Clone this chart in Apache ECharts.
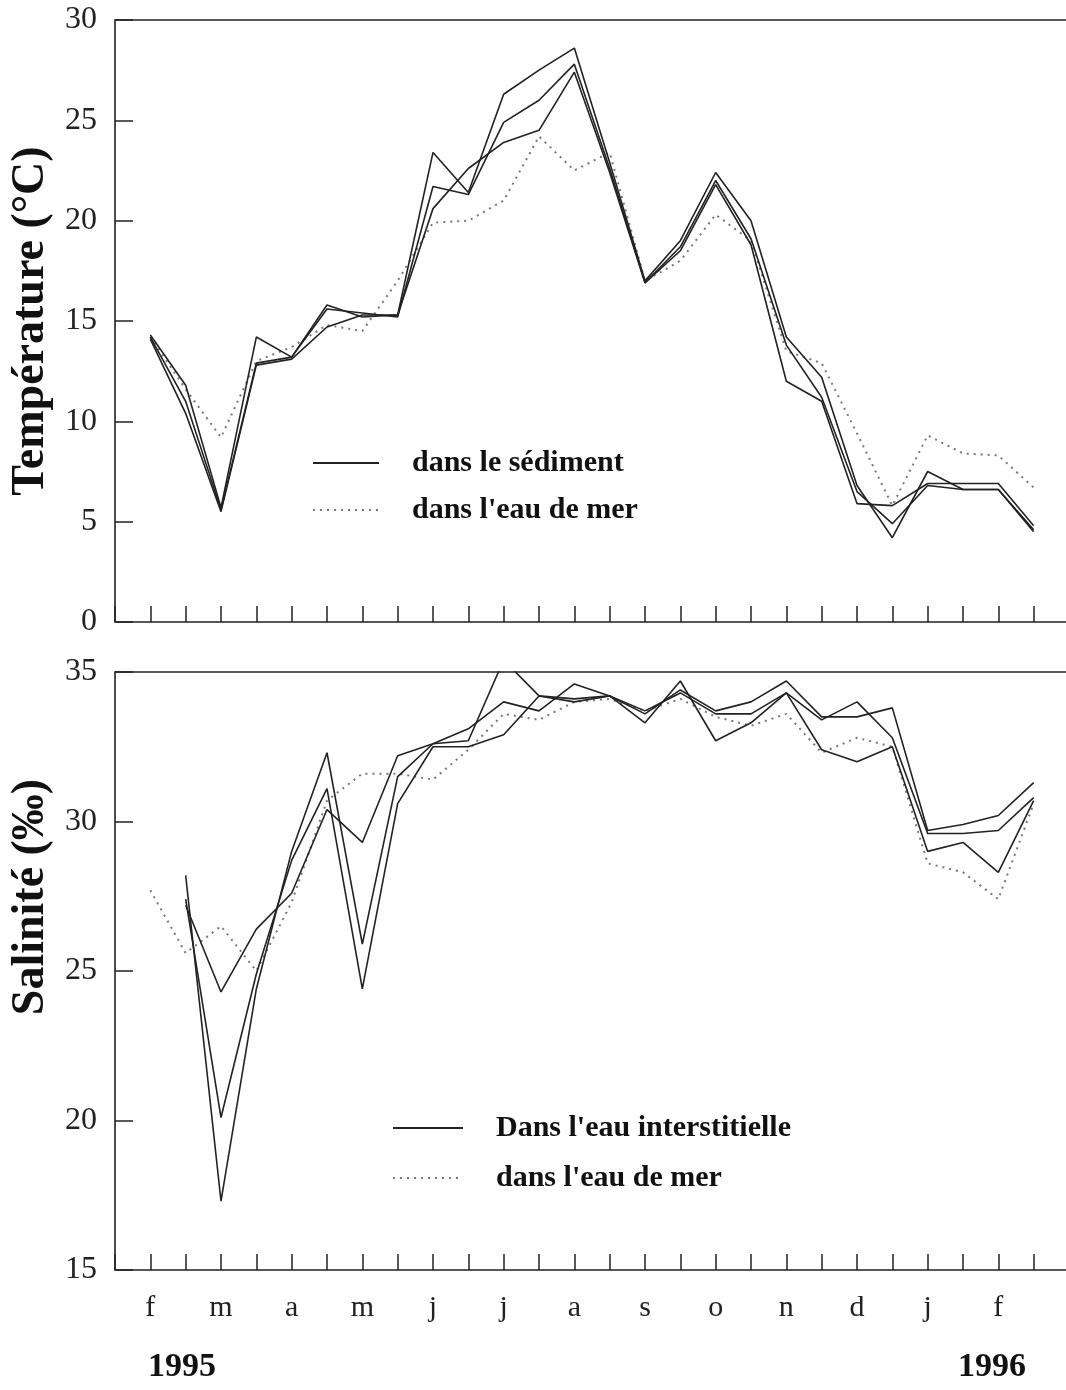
<!DOCTYPE html>
<html>
<head>
<meta charset="utf-8">
<script src="https://cdn.jsdelivr.net/npm/echarts@6/dist/echarts.min.js"></script>
<style>
  html, body { margin: 0; padding: 0; background: #fff; }
  #chart { width: 1066px; height: 1390px; }
</style>
</head>
<body>
<div id="chart"></div>
<script>
// mois (un repère tous les deux relevés)
const months = ['f', 'm', 'a', 'm', 'j', 'j', 'a', 's', 'o', 'n', 'd', 'j', 'f'];
const years = ['1995', '1996'];

// température (°C) - 3 stations dans le sédiment + eau de mer
const tempSedA = [14.3, 11.8, 5.7, 14.2, 13.2, 15.8, 15.2, 15.3, 23.4, 21.4, 26.3, 27.5, 28.6, 22.9, 17.0, 19.0, 22.4, 20.0, 14.2, 12.2, 6.8, 4.2, 7.5, 6.6, 6.6, 4.5];
const tempSedB = [14.2, 11.0, 5.6, 12.9, 13.2, 15.6, 15.4, 15.2, 21.7, 21.3, 24.9, 26.0, 27.8, 22.6, 16.9, 18.7, 22.0, 19.1, 13.8, 11.2, 6.5, 4.9, 6.8, 6.6, 6.6, 4.6];
const tempSedC = [14.1, 10.4, 5.5, 12.8, 13.1, 14.7, 15.3, 15.3, 20.6, 22.6, 23.9, 24.5, 27.4, 22.4, 16.9, 18.5, 21.8, 18.8, 12.0, 11.0, 5.9, 5.8, 6.9, 6.9, 6.9, 4.8];
const tempSea  = [14.2, 11.6, 9.2, 13.0, 13.7, 14.8, 14.5, 17.0, 19.9, 20.0, 21.0, 24.2, 22.5, 23.4, 17.0, 18.0, 20.3, 19.0, 13.5, 12.9, 9.4, 5.8, 9.3, 8.4, 8.3, 6.7];

// salinité (‰) - eau interstitielle + eau de mer
const salSedA = [null, 27.2, 24.3, 26.4, 27.6, 30.4, 29.3, 32.2, 32.6, 33.1, 34.0, 33.7, 34.6, 34.2, 33.6, 34.4, 33.7, 34.0, 34.7, 33.5, 33.5, 33.8, 29.7, 29.9, 30.2, 31.3];
const salSedB = [null, 28.2, 17.3, 24.4, 29.0, 32.3, 25.9, 31.5, 32.6, 32.7, 35.4, 34.2, 34.1, 34.2, 33.3, 34.7, 32.7, 33.3, 34.3, 33.4, 34.0, 32.8, 29.6, 29.6, 29.7, 30.8];
const salSedC = [null, 27.4, 20.1, 24.9, 28.7, 31.1, 24.4, 30.6, 32.5, 32.5, 32.9, 34.2, 34.0, 34.2, 33.7, 34.3, 33.6, 33.6, 34.3, 32.4, 32.0, 32.5, 29.0, 29.3, 28.3, 30.7];
const salSea  = [27.7, 25.6, 26.5, 25.0, 27.3, 30.7, 31.6, 31.6, 31.4, 32.4, 33.6, 33.4, 34.0, 34.1, 33.7, 34.1, 33.5, 33.2, 33.6, 32.3, 32.8, 32.5, 28.6, 28.3, 27.4, 30.6];

const SERIF = 'Liberation Serif';
const INK = '#222';

function toPoints(arr) {
  return arr.map((v, i) => [i, v]);
}

function solid(name, arr, idx) {
  return {
    name: name,
    type: 'line',
    xAxisIndex: idx,
    yAxisIndex: idx,
    data: toPoints(arr),
    symbol: 'none',
    clip: true,
    itemStyle: { color: INK },
    lineStyle: { color: INK, width: 1.6, type: 'solid' },
    z: 3
  };
}

function dotted(name, arr, idx) {
  return {
    name: name,
    type: 'line',
    xAxisIndex: idx,
    yAxisIndex: idx,
    data: toPoints(arr),
    symbol: 'none',
    clip: true,
    itemStyle: { color: '#777' },
    lineStyle: { color: '#777', width: 2, type: [2, 5] },
    z: 2
  };
}

function xAxisFor(idx, withLabels) {
  return {
    type: 'value',
    gridIndex: idx,
    min: -1,
    max: 26,
    interval: 1,
    splitLine: { show: false },
    axisLine: { show: false, onZero: false },
    axisTick: { show: true, inside: true, length: 16, lineStyle: { color: INK, width: 1.5 } },
    axisLabel: {
      show: withLabels,
      margin: 23,
      fontFamily: SERIF,
      fontSize: 30,
      color: INK,
      formatter: function (v) {
        if (v >= 0 && v % 2 === 0 && v / 2 < months.length) return months[v / 2];
        return '';
      }
    }
  };
}

function yAxisFor(idx, min, max, name, pad) {
  return {
    type: 'value',
    gridIndex: idx,
    min: min,
    max: max,
    interval: 5,
    name: name,
    nameLocation: 'middle',
    nameRotate: 90,
    nameGap: 52,
    nameTextStyle: { fontFamily: SERIF, fontWeight: 'bold', fontSize: 46, color: '#111', padding: pad },
    splitLine: { show: false },
    axisLine: { show: false, onZero: false },
    axisTick: { show: true, inside: true, length: 18, lineStyle: { color: INK, width: 1.5 } },
    axisLabel: { margin: 18, fontFamily: SERIF, fontSize: 32, color: INK }
  };
}

const legendText = { fontFamily: SERIF, fontWeight: 'bold', fontSize: 30, color: '#111', padding: [0, 0, 0, 28] };

const chart = echarts.init(document.getElementById('chart'), null, { renderer: 'canvas' });

chart.setOption({
  backgroundColor: '#fff',
  animation: false,
  grid: [
    { left: 115, top: 20, width: 954, height: 602, outerBoundsMode: 'none', containLabel: false, show: true, borderColor: INK, borderWidth: 1.6, backgroundColor: 'transparent' },
    { left: 115, top: 672, width: 954, height: 598, outerBoundsMode: 'none', containLabel: false, show: true, borderColor: INK, borderWidth: 1.6, backgroundColor: 'transparent' }
  ],
  legend: [
    {
      left: 312, top: 448, padding: 0, orient: 'vertical', itemWidth: 66, itemHeight: 14, itemGap: 17,
      itemStyle: { opacity: 0 },
      data: ['dans le sédiment', "dans l'eau de mer"], textStyle: legendText, selectedMode: false
    },
    {
      left: 392, top: 1113, padding: 0, orient: 'vertical', itemWidth: 70, itemHeight: 14, itemGap: 20,
      itemStyle: { opacity: 0 },
      data: ["Dans l'eau interstitielle", "dans l'eau de mer"], textStyle: legendText, selectedMode: false
    }
  ],
  xAxis: [xAxisFor(0, false), xAxisFor(1, true)],
  yAxis: [
    yAxisFor(0, 0, 30, 'Température (°C)', [0, 0, 0, 0]),
    yAxisFor(1, 15, 35, 'Salinité (‰)', [0, 0, 0, 148])
  ],
  graphic: [
    { type: 'text', left: 148, top: 1350, style: { text: years[0], font: 'bold 34px "Liberation Serif"', fill: '#111' } },
    { type: 'text', left: 958, top: 1350, style: { text: years[1], font: 'bold 34px "Liberation Serif"', fill: '#111' } }
  ],
  series: [
    solid('dans le sédiment', tempSedA, 0),
    solid('dans le sédiment', tempSedB, 0),
    solid('dans le sédiment', tempSedC, 0),
    dotted("dans l'eau de mer", tempSea, 0),
    solid("Dans l'eau interstitielle", salSedA, 1),
    solid("Dans l'eau interstitielle", salSedB, 1),
    solid("Dans l'eau interstitielle", salSedC, 1),
    dotted("dans l'eau de mer", salSea, 1)
  ]
});
</script>
</body>
</html>
